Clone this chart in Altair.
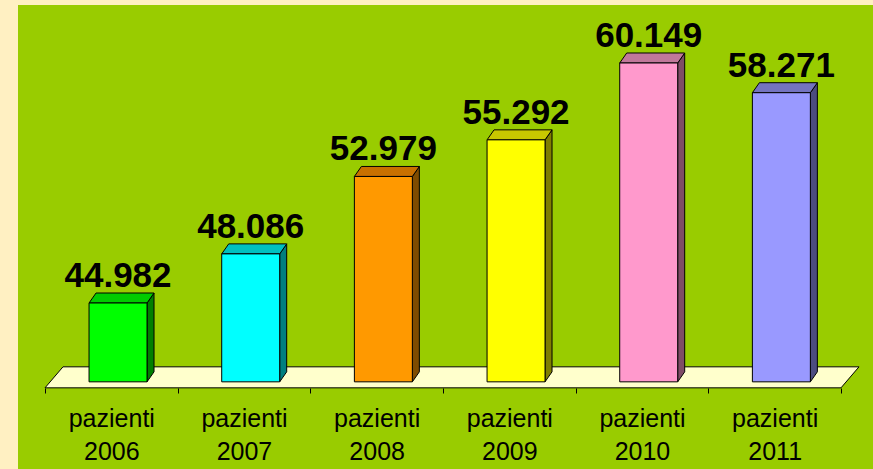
import json
import altair as alt
import pandas as pd

# ---- data ----
YEARS = ["2006", "2007", "2008", "2009", "2010", "2011"]
CATEGORY_PREFIX = "pazienti"
VALUES = [44982, 48086, 52979, 55292, 60149, 58271]
VALUE_LABELS = ["44.982", "48.086", "52.979", "55.292", "60.149", "58.271"]

# ---- styles ----
FRONT_COLORS = ["#00FF00", "#00FFFF", "#FF9900", "#FFFF00", "#FF99CC", "#9999FF"]
TOP_COLORS = ["#00CC00", "#00C0C0", "#C87000", "#C8C800", "#C0789A", "#7474C0"]
SIDE_COLORS = ["#007F00", "#007F7F", "#7F4C00", "#7F7F00", "#7F4C66", "#4C4C80"]
BG_GREEN = "#99CC00"
CREAM = "#FFF0C2"
FLOOR_COLOR = "#FFFFCC"

W, H = 855, 464
X_DOMAIN = [-0.2035, 6.2411]
Y_DOMAIN = [34492, 63814]
BASE = 40000
BAR_LEFT, BAR_RIGHT = 0.332, 0.769
DEPTH_X_PX, DEPTH_Y_PX = 7, 10
FLOOR_FRONT_PX, FLOOR_BACK_PX = -6, 15
FLOOR_DEPTH_X_PX = 18

xu = (X_DOMAIN[1] - X_DOMAIN[0]) / W
yu = (Y_DOMAIN[1] - Y_DOMAIN[0]) / H
n = len(YEARS)

front_rows, side_rows, top_rows, label_rows = [], [], [], []
for i, (yr, v, lab) in enumerate(zip(YEARS, VALUES, VALUE_LABELS)):
    xl, xr = i + BAR_LEFT, i + BAR_RIGHT
    front_rows.append(dict(year=yr, xl=xl, xr=xr, y=v, y2=BASE, c=FRONT_COLORS[i]))
    side_rows.append(dict(year=yr, x=xr, y=v, y2=BASE, c=SIDE_COLORS[i]))
    side_rows.append(dict(year=yr, x=xr + DEPTH_X_PX * xu, y=v + DEPTH_Y_PX * yu,
                          y2=BASE + DEPTH_Y_PX * yu, c=SIDE_COLORS[i]))
    top_rows.append(dict(year=yr, y=v, x=xl, x2=xr, c=TOP_COLORS[i]))
    top_rows.append(dict(year=yr, y=v + DEPTH_Y_PX * yu, x=xl + DEPTH_X_PX * xu,
                         x2=xr + DEPTH_X_PX * xu, c=TOP_COLORS[i]))
    label_rows.append(dict(year=yr, x=(xl + xr) / 2, y=v, text=lab))

floor_rows = [
    dict(y=BASE + FLOOR_FRONT_PX * yu, x=0, x2=n),
    dict(y=BASE + FLOOR_BACK_PX * yu, x=FLOOR_DEPTH_X_PX * xu, x2=n + FLOOR_DEPTH_X_PX * xu),
]

xs = alt.Scale(domain=X_DOMAIN, nice=False, zero=False)
ys = alt.Scale(domain=Y_DOMAIN, nice=False, zero=False)

labels_js = json.dumps([[CATEGORY_PREFIX, y] for y in YEARS])
x_axis = alt.Axis(
    values=list(range(n + 1)), orient="bottom", offset=-81, title=None,
    domain=False, grid=False, tickSize=5, tickColor="black", tickWidth=1,
    labelExpr=f"datum.value < {n} ? {labels_js}[datum.value] : ''",
    labelOffset=66.3, labelPadding=13, labelFont="Liberation Sans", labelFontSize=25,
    labelColor="black", labelBaseline="top", labelLineHeight=33,
    labelOverlap=False, labelFlush=False, labelBound=False,
)

floor = alt.Chart(pd.DataFrame(floor_rows)).mark_area(
    orient="horizontal", fill=FLOOR_COLOR, stroke="black", strokeWidth=1
).encode(
    y=alt.Y("y:Q", scale=ys, axis=None, stack=None),
    x=alt.X("x:Q", scale=xs, axis=x_axis, stack=None),
    x2="x2:Q",
)

sides = alt.Chart(pd.DataFrame(side_rows)).mark_area(
    orient="vertical", stroke="black", strokeWidth=1
).encode(
    x=alt.X("x:Q", scale=xs, axis=x_axis),
    y=alt.Y("y:Q", scale=ys, axis=None, stack=None),
    y2="y2:Q",
    fill=alt.Fill("c:N", scale=None),
    detail="year:N",
)

tops = alt.Chart(pd.DataFrame(top_rows)).mark_area(
    orient="horizontal", stroke="black", strokeWidth=1
).encode(
    y=alt.Y("y:Q", scale=ys, axis=None, stack=None),
    x=alt.X("x:Q", scale=xs, axis=x_axis, stack=None),
    x2="x2:Q",
    fill=alt.Fill("c:N", scale=None),
    detail="year:N",
)

fronts = alt.Chart(pd.DataFrame(front_rows)).mark_rect(
    stroke="black", strokeWidth=1
).encode(
    x=alt.X("xl:Q", scale=xs, axis=x_axis),
    x2="xr:Q",
    y=alt.Y("y:Q", scale=ys, axis=None),
    y2="y2:Q",
    fill=alt.Fill("c:N", scale=None),
)

labels = alt.Chart(pd.DataFrame(label_rows)).mark_text(
    font="Liberation Sans", fontSize=35, fontWeight="bold", color="black",
    align="center", baseline="alphabetic", dy=-16,
).encode(
    x=alt.X("x:Q", scale=xs, axis=x_axis),
    y=alt.Y("y:Q", scale=ys, axis=None),
    text="text:N",
)

chart = alt.layer(floor, sides, tops, fronts, labels).properties(
    width=W, height=H, background=CREAM, autosize="none",
    padding={"left": 18, "top": 5, "right": 0, "bottom": 0},
).configure_view(fill=BG_GREEN, strokeWidth=0)

chart.save("out.html", embed_options={"renderer": "svg", "actions": False})
